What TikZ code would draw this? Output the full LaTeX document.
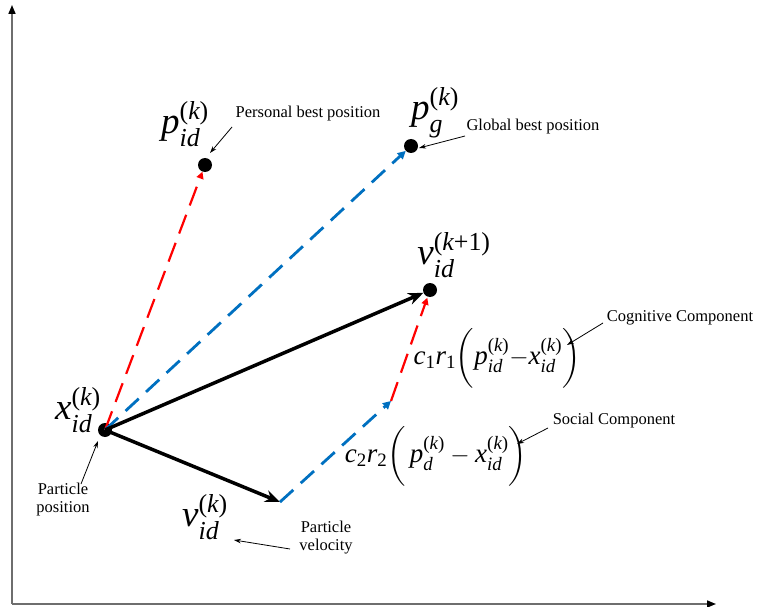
\documentclass[tikz,border=0pt]{standalone}
\usepackage{fontspec}
\usepackage{amsmath}
\setmainfont{Liberation Serif}
\usetikzlibrary{arrows.meta}
\newcommand\mi[1]{\text{\itshape #1}}
\newcommand\mup[1]{\text{\upshape #1}}
\makeatletter
\newcommand\Lpar{\mathopen{\bBigg@{1.8}(}}
\newcommand\Rpar{\mathclose{\bBigg@{1.8})}}
\makeatother
\definecolor{pblue}{RGB}{0,112,192}
\definecolor{pred}{RGB}{255,0,0}
\definecolor{axisgray}{RGB}{110,110,110}
\begin{document}
\begin{tikzpicture}[x=1pt,y=-1pt,
  dot/.style={circle,fill=black,inner sep=0pt,minimum size=14pt},
  blk/.style={line width=3.5pt,-{Stealth[length=15pt,width=12pt]}},
  reddash/.style={pred,line width=2.2pt,dash pattern=on 20pt off 10pt,-{Triangle[length=7pt,width=7pt]}},
  bluedash/.style={pblue,line width=2.8pt,dash pattern=on 18pt off 10pt,-{Triangle[length=8pt,width=8pt]}},
  note/.style={font=\fontsize{16.5}{18}\selectfont,align=center,inner sep=0pt},
  sym/.style={font=\fontsize{37}{42}\selectfont,inner sep=0pt},
  form/.style={font=\fontsize{27}{32}\selectfont,inner sep=0pt},
  thin/.style={line width=0.8pt,-{Stealth[length=7pt,width=4.5pt]}},
  axis/.style={axisgray,line width=1.6pt,-{Triangle[length=9pt,width=7pt,fill=black,color=black]}}]
\useasboundingbox (0,0) rectangle (758,607);
% axes
\coordinate (O) at (12,604);
\coordinate (Ytop) at (12,5);
\coordinate (Xend) at (716,604);
\draw[axis] (O) -- (Ytop);
\draw[axis] (O) -- (Xend);
% points
\node[dot] (X) at (105,430) {};
\node[dot] (P) at (205,165) {};
\node[dot] (G) at (411,146) {};
\node[dot] (V1) at (430,290) {};
\coordinate (VK) at (280,502);
\coordinate (M) at (391,401);
% vectors
\draw[reddash] (X.center) -- (P);
\draw[bluedash] (X.center) -- (G);
\draw[bluedash] (VK) -- (M);
\draw[reddash,shorten >=1pt] (M) -- (V1);
\draw[blk] (X.center) -- (V1);
\draw[blk] (X.center) -- (VK);
% symbol labels
\node[sym] (Lp) at (185,124) {$\mi{p}^{\mup{(}\mi{k}\mup{)}}_{\mi{id}}$};
\node[sym] (Lg) at (435,113) {$\mi{p}^{\mup{(}\mi{k}\mup{)}}_{\mi{g}\vphantom{\mi{d}}}$};
\node[sym] (Lv1) at (454,255) {$\mi{v}^{\mup{(}\mi{k}\mup{+1)}}_{\mi{id}}$};
\node[sym] (Lx) at (78,410) {$\mi{x}^{\mup{(}\mi{k}\mup{)}}_{\mi{id}}$};
\node[sym] (Lv) at (205,517) {$\mi{v}^{\mup{(}\mi{k}\mup{)}}_{\mi{id}}$};
\node[form] (Fc) at (497,358) {$\mi{c}_{\mup{1}}\mi{r}_{\mup{1}}\Lpar\mi{p}^{\mup{(}\mi{k}\mup{)}}_{\mi{id}}{-}\mi{x}^{\mup{(}\mi{k}\mup{)}}_{\mi{id}}\Rpar$};
\node[form] (Fs) at (436,456) {$\mi{c}_{\mup{2}}\mi{r}_{\mup{2}}\Lpar\,\mi{p}^{\mup{(}\mi{k}\mup{)}}_{\mi{d}}-\mi{x}^{\mup{(}\mi{k}\mup{)}}_{\mi{id}}\Rpar$};
% notes
\node[note] (Npb) at (308,114) {Personal best position};
\node[note] (Ngb) at (533,127) {Global best position};
\node[note] (Ncc) at (680,318) {Cognitive Component};
\node[note] (Nsc) at (614,421) {Social Component};
\node[note] (Npp) at (63,500) {Particle\\position};
\node[note] (Npv) at (326,538) {Particle\\velocity};
% note arrows
\coordinate (a1) at (232,127); \coordinate (b1) at (210,153);
\coordinate (a2) at (465,136); \coordinate (b2) at (419,148);
\coordinate (a3) at (603,323); \coordinate (b3) at (567,345);
\coordinate (a4) at (548,428); \coordinate (b4) at (517,444);
\coordinate (a5) at (81,484);  \coordinate (b5) at (98,441);
\coordinate (a6) at (290,549); \coordinate (b6) at (234,540);
\draw[thin] (a1) -- (b1);
\draw[thin] (a2) -- (b2);
\draw[thin] (a3) -- (b3);
\draw[thin] (a4) -- (b4);
\draw[thin] (a5) -- (b5);
\draw[thin] (a6) -- (b6);
\end{tikzpicture}
\end{document}
